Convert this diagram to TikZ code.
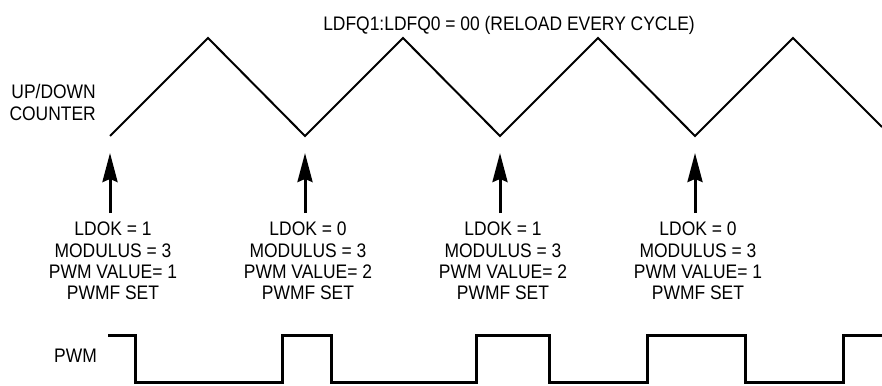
\documentclass[tikz,border=0pt]{standalone}
\usepackage{fontspec}
\setmainfont[FakeStretch=0.89]{Liberation Sans}
\usetikzlibrary{arrows.meta}
\begin{document}
\begin{tikzpicture}[x=1pt,y=-1pt,
  lbl/.style={inner sep=0pt,font=\fontsize{19.6}{21.3}\selectfont},
  wave/.style={line width=2pt,line join=miter},
  pwmline/.style={line width=3pt,line join=miter},
  upar/.style={line width=3pt,-{Stealth[length=29pt,width=15pt,inset=3pt]}}]
\useasboundingbox (0,0) rectangle (882,385);
% triangle wave points
\coordinate (t1) at (110,136);
\coordinate (p1) at (208,38);
\coordinate (t2) at (305,136);
\coordinate (p2) at (403,38);
\coordinate (t3) at (500,136);
\coordinate (p3) at (598,38);
\coordinate (t4) at (695,136);
\coordinate (p4) at (793,38);
\coordinate (tend) at (882,127);
\draw[wave] (t1) -- (p1) -- (t2) -- (p2) -- (t3) -- (p3) -- (t4) -- (p4) -- (tend);
% labels
\node[lbl,anchor=base] (hdr) at (509,30.5) {LDFQ1:LDFQ0 = 00 (RELOAD EVERY CYCLE)};
\node[lbl,anchor=north east,align=right,font=\fontsize{19.6}{22}\selectfont] (cnt) at (96,84) {UP/DOWN\\COUNTER};
\node[lbl,anchor=base east] (pwm) at (97,362) {PWM};
% info blocks
\node[lbl,anchor=north,align=center] (l1) at (113,222) {LDOK = 1\\MODULUS = 3\\PWM VALUE= 1\\PWMF SET};
\node[lbl,anchor=north,align=center] (l2) at (308,222) {LDOK = 0\\MODULUS = 3\\PWM VALUE= 2\\PWMF SET};
\node[lbl,anchor=north,align=center] (l3) at (503,222) {LDOK = 1\\MODULUS = 3\\PWM VALUE= 2\\PWMF SET};
\node[lbl,anchor=north,align=center] (l4) at (698,222) {LDOK = 0\\MODULUS = 3\\PWM VALUE= 1\\PWMF SET};
% arrows
\foreach \i in {1,2,3,4}{
  \coordinate (ab\i) at ([yshift=-77pt]t\i);
  \coordinate (at\i) at ([yshift=-17pt]t\i);
  \draw[upar] (ab\i) -- (at\i);
}
% PWM waveform
\coordinate (w0) at (108,335.5);
\coordinate (w1) at (135.5,335.5);
\coordinate (w2) at (135.5,382.5);
\coordinate (w3) at (282,382.5);
\coordinate (w4) at (282,335.5);
\coordinate (w5) at (331,335.5);
\coordinate (w6) at (331,382.5);
\coordinate (w7) at (476,382.5);
\coordinate (w8) at (476,335.5);
\coordinate (w9) at (549,335.5);
\coordinate (w10) at (549,382.5);
\coordinate (w11) at (647,382.5);
\coordinate (w12) at (647,335.5);
\coordinate (w13) at (745,335.5);
\coordinate (w14) at (745,382.5);
\coordinate (w15) at (843,382.5);
\coordinate (w16) at (843,335.5);
\coordinate (w17) at (882,335.5);
\draw[pwmline] (w0) -- (w1) -- (w2) -- (w3) -- (w4) -- (w5) -- (w6) -- (w7) -- (w8) -- (w9) -- (w10) -- (w11) -- (w12) -- (w13) -- (w14) -- (w15) -- (w16) -- (w17);
\end{tikzpicture}
\end{document}
